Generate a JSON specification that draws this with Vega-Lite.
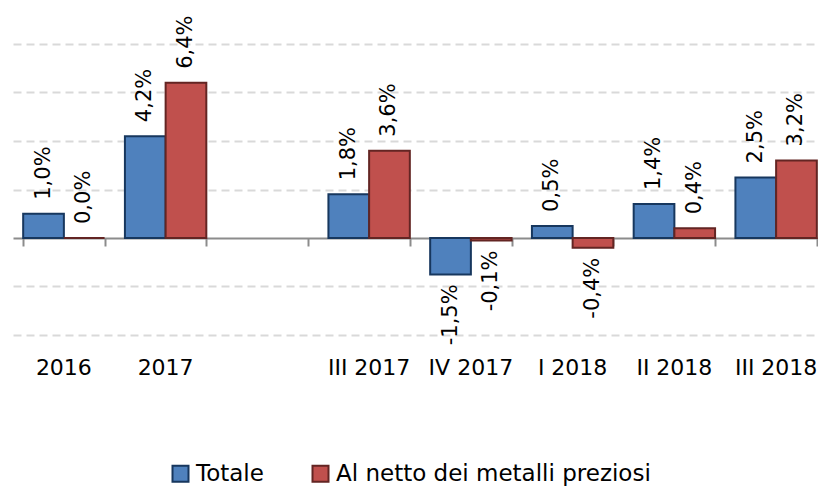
{
  "$schema": "https://vega.github.io/schema/vega-lite/v6.json",
  "width": 805,
  "height": 291,
  "autosize": {"type": "none"},
  "padding": {"left": 13, "top": 44, "right": 0, "bottom": 151},
  "background": "white",
  "config": {
    "view": {"stroke": null},
    "font": "DejaVu Sans",
    "locale": {"number": {"decimal": ",", "thousands": ".", "grouping": [3], "currency": ["", " €"], "minus": "-", "percent": "%"}}
  },
  "data": {
    "values": [
      {"periodo": "2016", "serie": "Totale", "value": 0.010},
      {"periodo": "2016", "serie": "Al netto dei metalli preziosi", "value": 0.000},
      {"periodo": "2017", "serie": "Totale", "value": 0.042},
      {"periodo": "2017", "serie": "Al netto dei metalli preziosi", "value": 0.064},
      {"periodo": "III 2017", "serie": "Totale", "value": 0.018},
      {"periodo": "III 2017", "serie": "Al netto dei metalli preziosi", "value": 0.036},
      {"periodo": "IV 2017", "serie": "Totale", "value": -0.015},
      {"periodo": "IV 2017", "serie": "Al netto dei metalli preziosi", "value": -0.001},
      {"periodo": "I 2018", "serie": "Totale", "value": 0.005},
      {"periodo": "I 2018", "serie": "Al netto dei metalli preziosi", "value": -0.004},
      {"periodo": "II 2018", "serie": "Totale", "value": 0.014},
      {"periodo": "II 2018", "serie": "Al netto dei metalli preziosi", "value": 0.004},
      {"periodo": "III 2018", "serie": "Totale", "value": 0.025},
      {"periodo": "III 2018", "serie": "Al netto dei metalli preziosi", "value": 0.032}
    ]
  },
  "encoding": {
    "y": {
      "field": "value",
      "type": "quantitative",
      "scale": {"domain": [-0.04, 0.08], "nice": false, "zero": false},
      "axis": {"title": null, "labels": false, "ticks": false, "domain": false, "grid": true, "gridDash": [8, 5], "gridColor": "#d9d9d9", "gridWidth": 2, "values": [-0.04, -0.02, 0.02, 0.04, 0.06, 0.08]}
    },
    "xOffset": {"field": "serie", "type": "nominal", "sort": ["Totale", "Al netto dei metalli preziosi"]}
  },
  "layer": [
    {
      "mark": {"type": "bar", "strokeWidth": 2},
      "encoding": {
        "x": {
          "field": "periodo", "type": "nominal", "sort": null,
          "scale": {"domain": ["2016", "2017", " ", "III 2017", "IV 2017", "I 2018", "II 2018", "III 2018"], "range": [0, 814], "paddingInner": 0.2, "paddingOuter": 0.1},
          "axis": {"orient": "bottom", "title": null, "labels": false, "domain": true, "domainColor": "#8c8c8c", "domainWidth": 2, "ticks": true, "tickColor": "#8c8c8c", "tickWidth": 2, "tickSize": 8, "tickBand": "extent", "offset": -97, "grid": false}
        },
        "fill": {
          "field": "serie", "type": "nominal", "sort": ["Totale", "Al netto dei metalli preziosi"],
          "scale": {"domain": ["Totale", "Al netto dei metalli preziosi"], "range": ["#4F81BD", "#C0504D"]},
          "legend": {"orient": "none", "legendX": 156, "legendY": 418, "direction": "horizontal", "title": null, "symbolType": "square", "symbolSize": 256, "symbolStrokeWidth": 2, "labelFontSize": 23, "labelFont": "DejaVu Sans", "labelColor": "black", "labelOffset": 4, "columnPadding": 44, "labelLimit": 600}
        },
        "stroke": {
          "field": "serie", "type": "nominal", "sort": ["Totale", "Al netto dei metalli preziosi"],
          "scale": {"domain": ["Totale", "Al netto dei metalli preziosi"], "range": ["#17375E", "#632523"]},
          "legend": {"orient": "none", "legendX": 156, "legendY": 418, "direction": "horizontal", "title": null, "symbolType": "square", "symbolSize": 256, "symbolStrokeWidth": 2, "labelFontSize": 23, "labelFont": "DejaVu Sans", "labelColor": "black", "labelOffset": 4, "columnPadding": 44, "labelLimit": 600}
        }
      }
    },
    {
      "transform": [{"filter": "datum.value >= 0"}],
      "mark": {"type": "text", "angle": 270, "align": "left", "baseline": "middle", "dx": 14, "fontSize": 21, "color": "black"},
      "encoding": {
        "x": {
          "field": "periodo", "type": "nominal", "sort": null,
          "scale": {"domain": ["2016", "2017", " ", "III 2017", "IV 2017", "I 2018", "II 2018", "III 2018"], "range": [0, 814], "paddingInner": 0.2, "paddingOuter": 0.1},
          "axis": {"orient": "bottom", "title": null, "labels": true, "domain": false, "ticks": false, "tickSize": 0, "labelPadding": 22, "labelFontSize": 22, "labelFont": "DejaVu Sans", "labelColor": "black", "labelAngle": 0, "grid": false}
        },
        "text": {"field": "value", "type": "quantitative", "format": ".1%"}
      }
    },
    {
      "transform": [{"filter": "datum.value < 0"}],
      "mark": {"type": "text", "angle": 270, "align": "right", "baseline": "middle", "dx": -10, "fontSize": 21, "color": "black"},
      "encoding": {
        "x": {
          "field": "periodo", "type": "nominal", "sort": null,
          "scale": {"domain": ["2016", "2017", " ", "III 2017", "IV 2017", "I 2018", "II 2018", "III 2018"], "range": [0, 814], "paddingInner": 0.2, "paddingOuter": 0.1},
          "axis": null
        },
        "text": {"field": "value", "type": "quantitative", "format": ".1%"}
      }
    }
  ],
  "resolve": {"axis": {"x": "independent"}}
}
